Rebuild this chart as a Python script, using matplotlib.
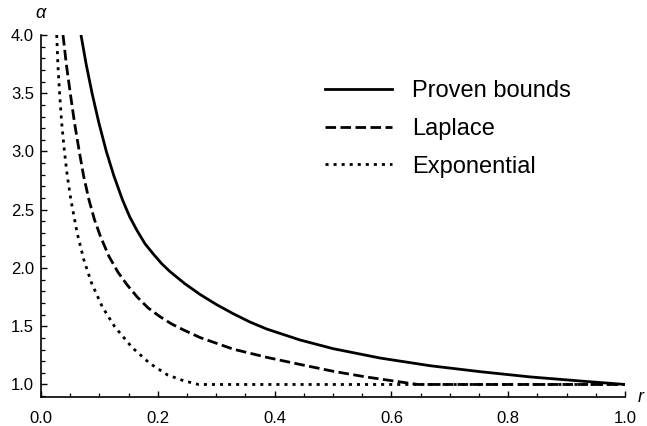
import matplotlib
matplotlib.use("Agg")
import matplotlib.pyplot as plt
from matplotlib.ticker import MultipleLocator

plt.rcParams['font.family'] = ['Liberation Sans', 'DejaVu Sans']

# values
r_proven = [0.0685, 0.0774, 0.0877, 0.0991, 0.1120, 0.1248, 0.1396, 0.1520,
            0.1644, 0.1781, 0.1918, 0.2063, 0.2209, 0.2466, 0.2723, 0.3005,
            0.3293, 0.3579, 0.3865, 0.4435, 0.5005, 0.5805, 0.6661, 0.7517,
            0.8373, 0.9229, 1.0]
a_proven = [4.0, 3.747, 3.494, 3.246, 2.998, 2.791, 2.584, 2.438,
            2.322, 2.208, 2.123, 2.039, 1.969, 1.864, 1.773, 1.686,
            1.607, 1.536, 1.476, 1.382, 1.307, 1.227, 1.161, 1.110,
            1.065, 1.030, 1.0]

r_laplace = [0.0377, 0.0434, 0.0503, 0.0574, 0.0656, 0.0729, 0.0822, 0.0916,
             0.1019, 0.1164, 0.1318, 0.1473, 0.1644, 0.1832, 0.2038, 0.2235,
             0.2437, 0.2723, 0.3293, 0.3865, 0.4435, 0.5005, 0.5548, 0.6091,
             0.6455, 1.0]
a_laplace = [4.0, 3.747, 3.494, 3.246, 2.998, 2.791, 2.584, 2.414,
             2.270, 2.099, 1.964, 1.856, 1.753, 1.658, 1.582, 1.520,
             1.469, 1.403, 1.303, 1.233, 1.172, 1.113, 1.066, 1.026,
             1.0, 1.0]

r_expon = [0.0269, 0.0289, 0.0319, 0.0354, 0.0402, 0.0450, 0.0512, 0.0620,
           0.0734, 0.0867, 0.1048, 0.1262, 0.1559, 0.1860, 0.2166, 0.2437,
           0.2697, 1.0]
a_expon = [4.0, 3.747, 3.494, 3.246, 2.998, 2.791, 2.584, 2.298,
           2.069, 1.869, 1.668, 1.496, 1.318, 1.182, 1.082, 1.033,
           1.0, 1.0]

labels = ["Proven bounds", "Laplace", "Exponential"]

fig = plt.figure(figsize=(6.47, 4.26), dpi=100)
ax = fig.add_axes([41 / 647, 1 - 396.7 / 426, 584 / 647, (396.7 - 35) / 426])

lw = 2.0
ax.plot(r_proven, a_proven, color="black", lw=lw, label=labels[0])
ax.plot(r_laplace, a_laplace, color="black", lw=lw, dashes=(3.8, 1.6), label=labels[1])
ax.plot(r_expon, a_expon, color="black", lw=lw, dashes=(1.1, 1.8), label=labels[2])

ax.set_xlim(0, 1)
ax.set_ylim(0.895, 4.0)
for s in ["top", "right"]:
    ax.spines[s].set_visible(False)
for s in ["left", "bottom"]:
    ax.spines[s].set_linewidth(1.2)

ax.xaxis.set_minor_locator(MultipleLocator(0.05))
ax.yaxis.set_minor_locator(MultipleLocator(0.1))
ax.set_xticks([0.0, 0.2, 0.4, 0.6, 0.8, 1.0])
ax.set_xticklabels(["0.0", "0.2", "0.4", "0.6", "0.8", "1.0"])
ax.set_yticks([1.0, 1.5, 2.0, 2.5, 3.0, 3.5, 4.0])
ax.set_yticklabels(["1.0", "1.5", "2.0", "2.5", "3.0", "3.5", "4.0"])
ax.tick_params(which="major", direction="in", length=4.5, width=1.0, labelsize=12)
ax.tick_params(which="minor", direction="in", length=2.7, width=0.9)
ax.tick_params(axis="x", which="major", pad=10)
ax.tick_params(axis="y", which="major", pad=5)

fig.text(41 / 647, 1 - 14 / 426, "α", ha="center", va="center", fontsize=13, style="italic")
fig.text(641 / 647, 1 - 398 / 426, "r", ha="center", va="center", fontsize=13, style="italic")

ax.legend(loc="upper left", bbox_to_anchor=(325 / 647, 1 - 80 / 426),
          bbox_transform=fig.transFigure, frameon=False, fontsize=17,
          handlelength=2.84, handletextpad=0.85, labelspacing=0.67,
          borderpad=0, borderaxespad=0)

fig.savefig("out.png", dpi=100)
